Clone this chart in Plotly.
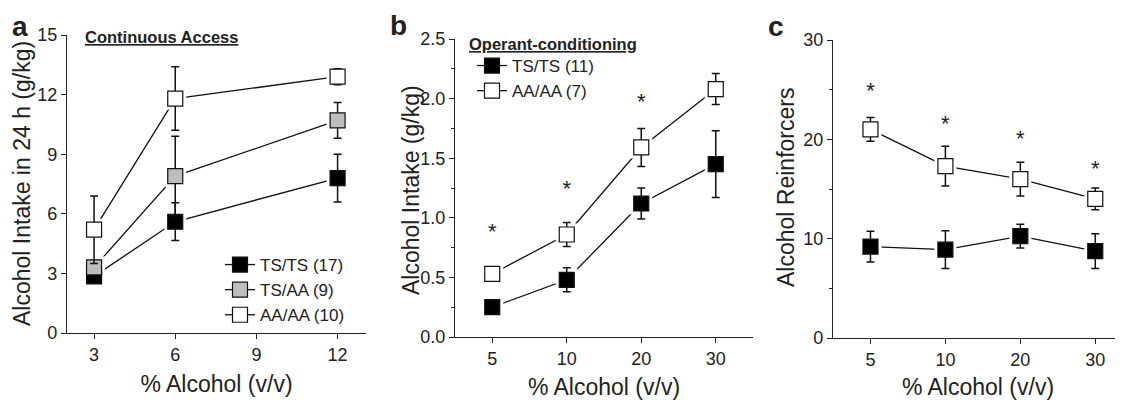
import plotly.graph_objects as go

# ---------------- data ----------------
# Panel a: Continuous Access
a_x = [3, 6, 12]
a_tsts = [2.85, 5.6, 7.8]
a_tsts_err = [0.2, 0.95, 1.2]
a_tsaa = [3.3, 7.9, 10.7]
a_tsaa_err = [0.35, 2.0, 0.9]
a_aaaa = [5.2, 11.8, 12.9]
a_aaaa_err = [1.7, 1.6, 0.4]

# Panel b: Operant-conditioning intake
b_x = ["5", "10", "20", "30"]
b_tsts = [0.25, 0.48, 1.12, 1.45]
b_tsts_err = [0.03, 0.1, 0.13, 0.28]
b_aaaa = [0.53, 0.86, 1.59, 2.08]
b_aaaa_err = [0.05, 0.1, 0.16, 0.13]
b_star_x = ["5", "10", "20"]
b_star_y = [0.87, 1.23, 1.96]

# Panel c: Alcohol reinforcers
c_x = ["5", "10", "20", "30"]
c_tsts = [9.2, 8.9, 10.25, 8.75]
c_tsts_err = [1.55, 1.9, 1.2, 1.75]
c_aaaa = [21.0, 17.3, 16.0, 14.0]
c_aaaa_err = [1.2, 2.0, 1.7, 1.1]
c_star_x = ["5", "10", "20", "30"]
c_star_y = [24.7, 21.4, 19.9, 16.9]

FONT = "Arial, Liberation Sans, sans-serif"
BLACK = "#000000"
GRAY = "#bdbdbd"
WHITE = "#ffffff"
MSIZE = 15
HALO = 22
TICK = 18
TITLE = 23
LEG = 17

fig = go.Figure()


def add_series(x, y, err, fill, xa, ya, name, legend):
    # connecting line
    fig.add_trace(go.Scatter(x=x, y=y, mode="lines", line=dict(color="#111", width=1.3),
                             xaxis=xa, yaxis=ya, showlegend=False, hoverinfo="skip"))
    return dict(x=x, y=y, err=err, fill=fill, xa=xa, ya=ya, name=name, legend=legend)


def add_halo(s):
    fig.add_trace(go.Scatter(x=s["x"], y=s["y"], mode="markers",
                             marker=dict(symbol="square", size=HALO, color=WHITE, line=dict(width=0)),
                             xaxis=s["xa"], yaxis=s["ya"], showlegend=False, hoverinfo="skip"))


def add_marks(s):
    fig.add_trace(go.Scatter(x=s["x"], y=s["y"], mode="markers",
                             marker=dict(symbol="square", size=MSIZE, color=s["fill"],
                                         line=dict(color="#111", width=1.2)),
                             error_y=dict(type="data", array=s["err"], visible=True,
                                          color="#111", thickness=1.5, width=4),
                             xaxis=s["xa"], yaxis=s["ya"], showlegend=False))
    if s["legend"] is not None:
        fig.add_trace(go.Scatter(x=[None], y=[None], mode="lines+markers", name=s["name"],
                                 line=dict(color="#111", width=1.3),
                                 marker=dict(symbol="square", size=MSIZE, color=s["fill"],
                                             line=dict(color="#111", width=1.2)),
                                 xaxis=s["xa"], yaxis=s["ya"], legend=s["legend"]))


groups = [
    [add_series(a_x, a_tsts, a_tsts_err, BLACK, "x", "y", "TS/TS (17)", "legend"),
     add_series(a_x, a_tsaa, a_tsaa_err, GRAY, "x", "y", "TS/AA (9)", "legend"),
     add_series(a_x, a_aaaa, a_aaaa_err, WHITE, "x", "y", "AA/AA (10)", "legend")],
    [add_series(b_x, b_tsts, b_tsts_err, BLACK, "x2", "y2", "TS/TS (11)", "legend2"),
     add_series(b_x, b_aaaa, b_aaaa_err, WHITE, "x2", "y2", "AA/AA (7)", "legend2")],
    [add_series(c_x, c_tsts, c_tsts_err, BLACK, "x3", "y3", "TS/TS", None),
     add_series(c_x, c_aaaa, c_aaaa_err, WHITE, "x3", "y3", "AA/AA", None)],
]
for g in groups:
    for s in g:
        add_halo(s)
for g in groups:
    for s in g:
        add_marks(s)

# significance asterisks
for sx, sy, xa, ya in [(b_star_x, b_star_y, "x2", "y2"), (c_star_x, c_star_y, "x3", "y3")]:
    fig.add_trace(go.Scatter(x=sx, y=sy, mode="text", text=["*"] * len(sx),
                             textfont=dict(family=FONT, size=22, color="#222"),
                             xaxis=xa, yaxis=ya, showlegend=False, hoverinfo="skip"))

# page has an 8px body margin, so the figure is sized to fit the 1123x400 window
OFF = 8
W, H = 1123 - OFF, 400 - OFF


def px(v):
    return (v - OFF) / W


def py(v):
    return 1 - (v - OFF) / H


axis_common = dict(showline=True, linecolor="#222", linewidth=1.3, ticks="outside",
                   ticklen=5, tickwidth=1.3, tickcolor="#222", showgrid=False, zeroline=False,
                   tickfont=dict(family=FONT, size=TICK, color="#222"), mirror=False,
                   automargin=False)

fig.update_layout(
    width=W, height=H, margin=dict(l=0, r=0, t=0, b=0, autoexpand=False),
    plot_bgcolor="white", paper_bgcolor="white",
    font=dict(family=FONT, color="#222"),
    xaxis=dict(domain=[px(67), px(366)], range=[2, 13.05], tickvals=[3, 6, 9, 12], anchor="y",
               title=dict(text="% Alcohol (v/v)", font=dict(size=TITLE), standoff=12), **axis_common),
    yaxis=dict(domain=[py(333), py(35)], range=[0, 15], tickvals=[0, 3, 6, 9, 12, 15], anchor="x",
               **axis_common),
    xaxis2=dict(domain=[px(455), px(753)], type="category", range=[-0.5, 3.5], anchor="y2",
                title=dict(text="% Alcohol (v/v)", font=dict(size=TITLE), standoff=12), **axis_common),
    yaxis2=dict(domain=[py(337), py(39)], range=[0, 2.5], tickvals=[0, 0.5, 1.0, 1.5, 2.0, 2.5],
                tickformat=".1f", anchor="x2",
                minor=dict(tickvals=[0.25, 0.75, 1.25, 1.75, 2.25], ticks="outside", ticklen=3,
                           tickcolor="#222", tickwidth=1.2),
                **axis_common),
    xaxis3=dict(domain=[px(833), 1.0], type="category", range=[-0.5, 3.37], anchor="y3",
                title=dict(text="% Alcohol (v/v)", font=dict(size=TITLE), standoff=12), **axis_common),
    yaxis3=dict(domain=[py(338), py(40)], range=[0, 30], tickvals=[0, 10, 20, 30], anchor="x3",
                minor=dict(tickvals=[5, 15, 25], ticks="outside", ticklen=3,
                           tickcolor="#222", tickwidth=1.2),
                **axis_common),
    legend=dict(x=px(220), y=py(247), xanchor="left", yanchor="top", bgcolor="rgba(0,0,0,0)",
                font=dict(family=FONT, size=LEG, color="#222"), tracegroupgap=0, itemwidth=30),
    legend2=dict(x=px(472), y=py(48), xanchor="left", yanchor="top", bgcolor="rgba(0,0,0,0)",
                 font=dict(family=FONT, size=LEG, color="#222"), tracegroupgap=0, itemwidth=30),
    showlegend=True,
)

annots = [
    dict(text="<b>a</b>", x=px(10), y=py(26), xanchor="left", yanchor="middle", font=dict(size=28)),
    dict(text="<b>b</b>", x=px(388), y=py(25), xanchor="left", yanchor="middle", font=dict(size=28)),
    dict(text="<b>c</b>", x=px(766), y=py(26), xanchor="left", yanchor="middle", font=dict(size=28)),
    dict(text="<b><u>Continuous Access</u></b>", x=px(83), y=py(37), xanchor="left", yanchor="middle",
         font=dict(size=16.5)),
    dict(text="<b><u>Operant-conditioning</u></b>", x=px(467), y=py(44), xanchor="left", yanchor="middle",
         font=dict(size=16.5)),
    # y-axis titles
    dict(text="Alcohol Intake in 24 h (g/kg)", x=px(22), y=py(184), xanchor="center", yanchor="middle",
         textangle=-90, font=dict(size=TITLE)),
    dict(text="Alcohol Intake (g/kg)", x=px(411), y=py(190), xanchor="center", yanchor="middle",
         textangle=-90, font=dict(size=TITLE)),
    dict(text="Alcohol Reinforcers", x=px(786), y=py(188), xanchor="center", yanchor="middle",
         textangle=-90, font=dict(size=TITLE)),
]
for a in annots:
    a.update(xref="paper", yref="paper", showarrow=False)
    a["font"] = dict(family=FONT, color="#222", **a["font"])
    fig.add_annotation(**a)

fig.write_html("out.html")
